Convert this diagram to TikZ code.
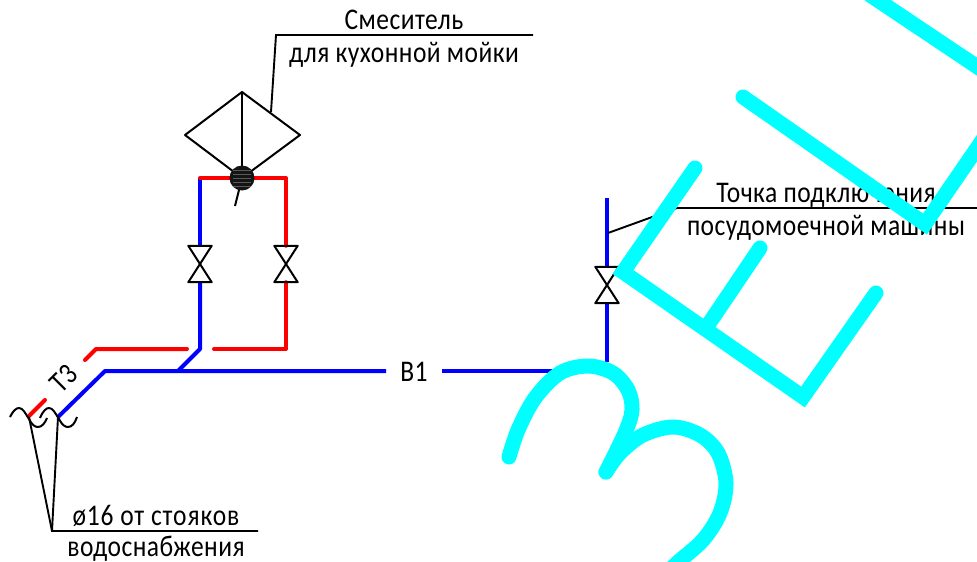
\documentclass[tikz,border=0pt]{standalone}
\usepackage{fontspec}
\setmainfont[FakeStretch=0.85,LetterSpace=1.5]{Carlito}
\begin{document}
\begin{tikzpicture}[x=1pt,y=-1pt,
  line join=miter,
  bluepipe/.style={draw=pipeblue,line width=4pt,line join=round},
  redpipe/.style={draw=pipered,line width=4pt,line join=round,line cap=round},
  thinline/.style={draw=black,line width=1.9pt},
  inkline/.style={draw=black,line width=2pt,line join=round},
  wm/.style={draw=wmcyan,line width=15pt,line cap=round,line join=miter},
  valvebox/.style={rectangle,inner sep=0pt,minimum width=23pt,minimum height=36pt},
  lab/.style={inner sep=0pt,anchor=base,font=\fontsize{30}{30}\selectfont},
  ]
\definecolor{pipeblue}{RGB}{0,0,255}
\definecolor{pipered}{RGB}{255,0,0}
\definecolor{wmcyan}{RGB}{0,255,255}
\useasboundingbox (0,0) rectangle (977,562);
\fill[white] (0,0) rectangle (977,562);

% valves
\node[valvebox] (v1) at (200,264) {};
\node[valvebox] (v2) at (286,264) {};
\node[valvebox] (v3) at (607,285) {};

% mixer
\coordinate (mt) at (242,92);
\coordinate (ml) at (185,135);
\coordinate (mr) at (300,135);
\coordinate (mb) at (242,178);
\node[circle,inner sep=0pt,minimum size=24pt] (mc) at (242,178) {};

% pipe coordinates
\coordinate (b0) at (58,417);
\coordinate (b1) at (105,371);
\coordinate (b2) at (386,371);
\coordinate (b3) at (442,371);
\coordinate (b4) at (556,371);
\coordinate (b5) at (178,371);
\coordinate (b6) at (200,349);
\coordinate (b7) at (200,178);
\coordinate (r1) at (286,178);
\coordinate (r2) at (286,349);
\coordinate (r3) at (214,349);
\coordinate (r4) at (187,349);
\coordinate (r5) at (96,349);
\coordinate (r6) at (85,360);
\coordinate (r7) at (29,416);
\coordinate (r8) at (45,400);
\coordinate (c1) at (607,198);
\coordinate (c2) at (607,362);

% blue pipes
\draw[bluepipe] (b0) -- (b1) -- (b2);
\draw[bluepipe] (b3) -- (b4);
\draw[bluepipe] (b5) -- (b6) -- (v1.south);
\draw[bluepipe] (v1.north) -- (b7);
\draw[bluepipe] (c1) -- (v3.north);
\draw[bluepipe] (v3.south) -- (c2);
% red pipes
\draw[redpipe] (b7) -- (r1) -- (v2.north);
\draw[redpipe] (v2.south) -- (r2) -- (r3);
\draw[redpipe] (r4) -- (r5) -- (r6);
\draw[redpipe] (r7) -- (r8);

% valve bodies
\foreach \v in {v1,v2,v3}
  \draw[inkline] (\v.north west) -- (\v.north east) -- (\v.south west) -- (\v.south east) -- cycle;

% mixer body
\draw[inkline] (mt) -- (mr) -- (mb) -- (ml) -- cycle;
\draw[inkline] (mt) -- (mb);
\coordinate (ms) at (235,206);
\draw[inkline] (mb) -- (ms);
\fill[black!92] (mc) circle (12.5pt);
\foreach \dy in {-8,-4,0,4,8}
  \draw[black!65,line width=.5pt] ([shift={(-9,\dy)}]mc.center) -- ([shift={(9,\dy)}]mc.center);

% leaders
\coordinate (l1) at (271,112);
\coordinate (l2) at (276,35);
\coordinate (l3) at (533,35);
\draw[thinline] (l1) -- (l2) -- (l3);
\coordinate (l4) at (608,233);
\coordinate (l5) at (677,208);
\coordinate (l6) at (977,208);
\draw[thinline] (l4) -- (l5) -- (l6);
\coordinate (l7) at (52,531);
\coordinate (l8) at (29,417);
\coordinate (l9) at (58,417);
\coordinate (l10) at (258,531);
\draw[thinline] (l8) -- (l7) -- (l10);
\draw[thinline] (l9) -- (l7);

% break marks
\draw[inkline] (10,417) .. controls (13,411) and (16,408) .. (19,408)
  .. controls (23,408) and (25,413) .. (29,419)
  .. controls (32,425) and (35,427) .. (38,427)
  .. controls (42,427) and (45,423) .. (47,418);
\draw[inkline] (40,418) .. controls (43,411) and (46,408) .. (49,408)
  .. controls (53,408) and (55,413) .. (59,419)
  .. controls (62,425) and (65,427) .. (68,427)
  .. controls (72,427) and (75,423) .. (77,417);

% labels
\node[lab] (t1) at (404,29) {Смеситель};
\node[lab] (t2) at (404,62) {для кухонной мойки};
\node[lab] (t3) at (826,202) {Точка подключения};
\node[lab] (t4) at (826,235) {посудомоечной машины};
\node[lab] (t5) at (156,525) {\addfontfeature{LetterSpace=3}ø16 от стояков};
\node[lab] (t6) at (156,556) {водоснабжения};
\node[lab] (t7) at (414,381) {В1};
\node[lab,anchor=center,rotate=45] (t8) at (64,379) {Т3};

% watermark
\draw[wm] plot[smooth,tension=.55] coordinates {(509,457) (518,430) (535,398) (560,373) (588,366) (613,373) (628,390) (632,410) (625,433) (606,472)};
\draw[wm] plot[smooth,tension=.55] coordinates {(606,472) (620,453) (643,435) (673,427) (700,435) (718,453) (726,483) (720,513) (703,540) (677,563) (660,580)};
\draw[wm] (695,168) -- (623,272) -- (803,397) -- (876,293);
\draw[wm] (760,248) -- (708,325);
\draw[wm] (743,97) -- (925,224) -- (1010,100);
\draw[wm] (870,-5) -- (1000,82);
\end{tikzpicture}
\end{document}
